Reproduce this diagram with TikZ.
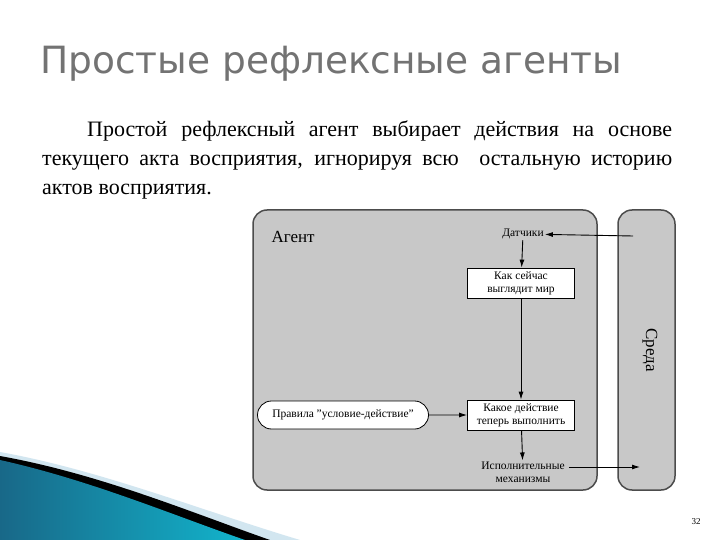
\documentclass[tikz,border=0pt]{standalone}
\usepackage{fontspec}
\setmainfont{Liberation Serif}
\newfontfamily\titlefont{DejaVu Sans}
\usetikzlibrary{arrows.meta,shapes.misc}
\definecolor{bluewave}{RGB}{30,130,170}
\definecolor{lightwave}{RGB}{210,230,240}
\definecolor{panel}{RGB}{200,200,200}
\begin{document}
\begin{tikzpicture}[x=1pt,y=-1pt,
  panelbox/.style={draw=black!70,line width=1.5pt,fill=panel,rounded corners=14pt},
  whitebox/.style={draw=black,fill=white,line width=0.8pt,inner sep=1pt,align=center,font=\fontsize{11.5}{13}\selectfont},
  lbl/.style={font=\fontsize{11.5}{13}\selectfont,align=center,inner sep=1pt},
  arr/.style={-{Latex[length=8pt,width=5pt]},line width=0.9pt}]
\useasboundingbox (0,0) rectangle (720,540);
\fill[white] (0,0) rectangle (720,540);
% bottom-left wave
\fill[lightwave] (0,452) .. controls (100,470) and (200,510) .. (300,540) -- (0,540) -- cycle;
\fill[black] (0,456) .. controls (100,474) and (190,512) .. (270,540) -- (0,540) -- cycle;
\shade[left color=bluewave!80!black,right color=bluewave!60!cyan] (0,460) .. controls (90,480) and (170,514) .. (245,540) -- (0,540) -- cycle;
% title and text
\node[anchor=west,text=black!55,font=\titlefont\fontsize{37.5}{40}\selectfont,inner sep=0] (title) at (40,64) {Простые рефлексные агенты};
\node[anchor=north west,text width=630pt,align=justify,inner sep=0,font=\fontsize{22}{29}\selectfont] (para) at (42,121)
 {\hspace*{45pt}Простой рефлексный агент выбирает действия на основе текущего акта восприятия, игнорируя всю\ \ остальную историю актов восприятия.};
\fill[white] (240,202) rectangle (680,212);
% panels
\draw[panelbox] (253,210) rectangle (597,490);
\draw[panelbox] (618,210) rectangle (675,490);
\node[font=\fontsize{17}{18}\selectfont,anchor=west] (agent) at (268,237) {Агент};
\node[font=\fontsize{17}{18}\selectfont,rotate=-90] (env) at (650,350) {Среда};
\node[lbl] (sens) at (523,234) {Датчики};
\node[whitebox,minimum width=107pt,minimum height=30pt] (now) at (521,283) {Как сейчас\\выглядит мир};
\node[whitebox,minimum width=107pt,minimum height=30pt] (act) at (521,415) {Какое действие\\теперь выполнить};
\node[whitebox,rounded rectangle,minimum width=173pt,minimum height=28pt] (rules) at (343,415) {Правила "условие-действие"};
\node[lbl] (eff) at (523,472) {Исполнительные\\механизмы};
\coordinate (envin) at (633,236);
\coordinate (envout) at (640,467);
\draw[arr] (envin) -- (sens);
\draw[arr] (sens) -- (now);
\draw[arr] (now) -- (act);
\draw[arr] (rules) -- (act);
\draw[arr] (act) -- (eff);
\draw[arr] (eff.east |- envout) ++(3,0) -- (envout);
\node[font=\fontsize{9}{10}\selectfont] (page) at (696,522) {32};
\end{tikzpicture}
\end{document}
